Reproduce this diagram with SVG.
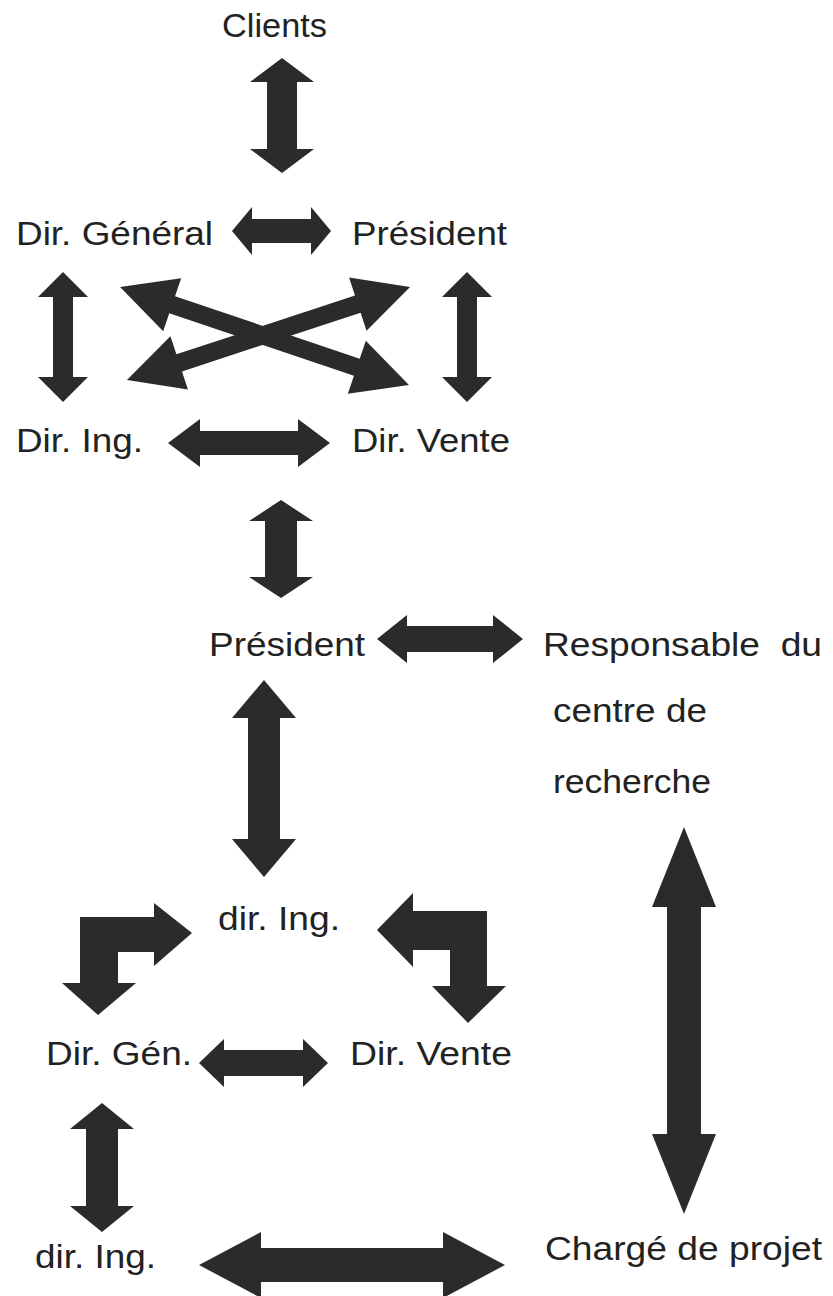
<svg xmlns="http://www.w3.org/2000/svg" width="833" height="1296" viewBox="0 0 833 1296">
<style>
text{font-family:"Liberation Sans",Arial,sans-serif;font-size:33.5px;fill:#222;white-space:pre}
.arr{fill:#2b2b2b;stroke:none}
</style>
<rect width="833" height="1296" fill="#fff"/>
<g id="connectors">
<polygon class="arr" points="282,58 314,82 297,82 297,149 314,149 282,173 250,149 267,149 267,82 250,82"/>
<polygon class="arr" points="232,231 252,207 252,219 311,219 311,207 331,231 311,255 311,243 252,243 252,255"/>
<polygon class="arr" points="63,272 88,297 73,297 73,377 88,377 63,402 38,377 53,377 53,297 38,297"/>
<polygon class="arr" points="467,272 492,297 477,297 477,377 492,377 467,402 442,377 457,377 457,297 442,297"/>
<polygon class="arr" transform="translate(264.5,336) rotate(18.73)" points="-152.5,0 -97.5,-28 -97.5,-9 97.5,-9 97.5,-28 152.5,0 97.5,28 97.5,9 -97.5,9 -97.5,28"/>
<polygon class="arr" transform="translate(268.5,333.5) rotate(-18.19)" points="-149,0 -94,-28 -94,-9 94,-9 94,-28 149,0 94,28 94,9 -94,9 -94,28"/>
<polygon class="arr" points="168,443 200,419 200,431 298,431 298,419 330,443 298,467 298,455 200,455 200,467"/>
<polygon class="arr" points="281,500 313,521 297,521 297,577 313,577 281,598 249,577 265,577 265,521 249,521"/>
<polygon class="arr" points="377,639 407,615 407,626 493,626 493,615 523,639 493,663 493,652 407,652 407,663"/>
<polygon class="arr" points="264,680 296,718 280,718 280,839 296,839 264,877 232,839 248,839 248,718 232,718"/>
<polygon class="arr" points="684,827 716,907 701,907 701,1134 716,1134 684,1214 652,1134 667,1134 667,907 652,907"/>
<polygon class="arr" points="80,917 154,917 154,903 192,933 154,966 154,952 118,952 118,983 136,983 98,1015 62,983 80,983"/>
<polygon class="arr" points="487,911 413,911 413,893 377,930 413,967 413,950 450,950 450,986 432,986 468,1023 506,986 487,986"/>
<polygon class="arr" points="199,1063 224,1039 224,1050 303,1050 303,1039 328,1063 303,1087 303,1076 224,1076 224,1087"/>
<polygon class="arr" points="102,1103 134,1129 118,1129 118,1206 134,1206 102,1232 70,1206 86,1206 86,1129 70,1129"/>
<polygon class="arr" points="199,1265 261,1232 261,1248 443,1248 443,1232 505,1265 443,1298 443,1282 261,1282 261,1298"/>
</g>
<g id="clients"><text x="222" y="37" textLength="105" lengthAdjust="spacingAndGlyphs">Clients</text></g>
<g id="dir-general-1"><text x="16" y="245" textLength="197" lengthAdjust="spacingAndGlyphs">Dir. Général</text></g>
<g id="president-1"><text x="352" y="245" textLength="155" lengthAdjust="spacingAndGlyphs">Président</text></g>
<g id="dir-ing-1"><text x="16" y="452" textLength="127" lengthAdjust="spacingAndGlyphs">Dir. Ing.</text></g>
<g id="dir-vente-1"><text x="352" y="452" textLength="158" lengthAdjust="spacingAndGlyphs">Dir. Vente</text></g>
<g id="president-2"><text x="209" y="656" textLength="156" lengthAdjust="spacingAndGlyphs">Président</text></g>
<g id="responsable">
<text x="543" y="656" textLength="279" lengthAdjust="spacingAndGlyphs">Responsable  du</text>
<text x="553" y="722" textLength="154" lengthAdjust="spacingAndGlyphs">centre de</text>
<text x="553" y="793" textLength="158" lengthAdjust="spacingAndGlyphs">recherche</text>
</g>
<g id="dir-ing-2"><text x="218" y="930" textLength="122" lengthAdjust="spacingAndGlyphs">dir. Ing.</text></g>
<g id="dir-gen-2"><text x="46" y="1065" textLength="146" lengthAdjust="spacingAndGlyphs">Dir. Gén.</text></g>
<g id="dir-vente-2"><text x="350" y="1065" textLength="162" lengthAdjust="spacingAndGlyphs">Dir. Vente</text></g>
<g id="dir-ing-3"><text x="35" y="1268" textLength="121" lengthAdjust="spacingAndGlyphs">dir. Ing.</text></g>
<g id="charge-projet"><text x="545" y="1260" textLength="277" lengthAdjust="spacingAndGlyphs">Chargé de projet</text></g>
</svg>
